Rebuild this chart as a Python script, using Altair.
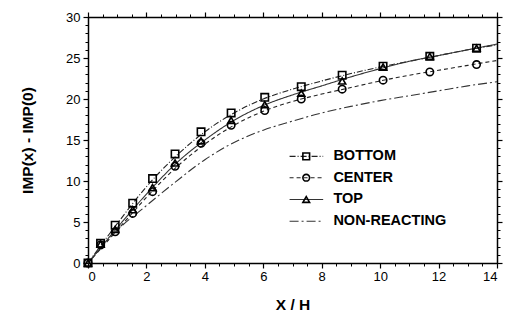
import altair as alt
import pandas as pd

# Measured impulse increase at each station (x/H)
x_meas = [0, 0.43, 0.93, 1.53, 2.21, 2.98, 3.87, 4.9, 6.05, 7.3, 8.7, 10.1, 11.7, 13.3]
bottom = [0, 2.4, 4.6, 7.3, 10.3, 13.3, 16.0, 18.3, 20.2, 21.5, 22.9, 24.0, 25.2, 26.2]
center = [0, 2.2, 3.8, 6.05, 8.7, 11.8, 14.6, 16.8, 18.6, 20.0, 21.2, 22.3, 23.3, 24.2]
top = [0, 2.3, 4.1, 6.5, 9.2, 12.2, 14.9, 17.4, 19.3, 20.7, 22.2, 23.9, 25.2, 26.2]

# Smoothed fit curves
x_fit = [0, 1, 2, 3, 4, 5, 6, 7, 8, 9, 10, 11, 12, 13, 14]
bottom_fit = [0, 4.8, 9.3, 13.0, 16.0, 18.3, 20.0, 21.2, 22.2, 23.1, 23.9, 24.6, 25.3, 26.0, 26.6]
center_fit = [0, 4.0, 8.0, 11.6, 14.5, 16.8, 18.5, 19.7, 20.6, 21.4, 22.2, 22.9, 23.5, 24.1, 24.7]
top_fit = [0, 4.3, 8.4, 12.1, 15.0, 17.4, 19.2, 20.5, 21.6, 22.7, 23.7, 24.6, 25.3, 26.0, 26.7]
nonreact_fit = [0, 4.0, 7.0, 9.9, 12.6, 14.7, 16.2, 17.3, 18.3, 19.1, 19.8, 20.4, 21.0, 21.6, 22.1]

series = ["BOTTOM", "CENTER", "TOP", "NON-REACTING"]
shapes = ["square", "circle", "triangle-up", None]
dashes = [[6, 2, 1, 2], [4, 3], [1, 0], [9, 3, 2, 3]]
strokes = ["#222222", "#222222", "#333333", "#333333"]

x_major = [0, 2, 4, 6, 8, 10, 12, 14]
y_major = [0, 5, 10, 15, 20, 25, 30]
x_minor = [i * 0.5 for i in range(29)]
y_minor = list(range(31))

meas = pd.DataFrame(
    [{"x": x, "y": v, "s": "BOTTOM"} for x, v in zip(x_meas, bottom)]
    + [{"x": x, "y": v, "s": "CENTER"} for x, v in zip(x_meas, center)]
    + [{"x": x, "y": v, "s": "TOP"} for x, v in zip(x_meas, top)]
)
fits = {
    "BOTTOM": bottom_fit,
    "CENTER": center_fit,
    "TOP": top_fit,
    "NON-REACTING": nonreact_fit,
}

xscale = alt.Scale(domain=[0, 14], nice=False, zero=False)
yscale = alt.Scale(domain=[0, 30], nice=False, zero=False)


def xe(axis=None):
    return alt.X("x:Q", scale=xscale, axis=axis)


def ye(axis=None):
    return alt.Y("y:Q", scale=yscale, axis=axis)


label_style = dict(labelFont="Liberation Sans", labelFontSize=13, labelColor="black",
                   titleFont="Liberation Sans", titleFontSize=15.5,
                   titleFontWeight="bold", titleColor="black")
frame_style = dict(domainColor="black", domainWidth=1.5, tickColor="black",
                   tickWidth=1.2, tickSize=5, grid=False)
minor_style = dict(domain=False, labels=False, title=None, tickSize=3,
                   tickColor="black", tickWidth=1, grid=False)

layers = []

# Main bottom/left axes carried by an invisible layer
layers.append(
    alt.Chart(pd.DataFrame({"x": x_major[:1], "y": y_major[:1]})).mark_point(opacity=0)
    .encode(
        x=xe(alt.Axis(orient="bottom", title="X / H", values=x_major, format="d",
                      labelPadding=2, titlePadding=14, **frame_style, **label_style)),
        y=ye(alt.Axis(orient="left", title="IMP(x) - IMP(0)", values=y_major,
                      format="d", labelPadding=3, titlePadding=30,
                      **frame_style, **label_style)),
    )
)
# Mirrored frame on top/right, ticks only
layers.append(
    alt.Chart(pd.DataFrame({"x": x_major[:1], "y": y_major[:1]})).mark_point(opacity=0)
    .encode(
        x=xe(alt.Axis(orient="top", values=x_major, labels=False, title=None,
                      **frame_style)),
        y=ye(alt.Axis(orient="right", values=y_major, labels=False, title=None,
                      **frame_style)),
    )
)
# Minor ticks on all four sides
for xo, yo in [("bottom", "left"), ("top", "right")]:
    layers.append(
        alt.Chart(pd.DataFrame({"x": x_major[:1], "y": y_major[:1]})).mark_point(opacity=0)
        .encode(
            x=xe(alt.Axis(orient=xo, values=x_minor, **minor_style)),
            y=ye(alt.Axis(orient=yo, values=y_minor, **minor_style)),
        )
    )

# Fit curves
for name, dash, col in zip(series, dashes, strokes):
    df = pd.DataFrame({"x": x_fit, "y": fits[name]})
    layers.append(
        alt.Chart(df).mark_line(interpolate="monotone", color=col,
                                strokeWidth=1.1, strokeDash=dash)
        .encode(x=xe(), y=ye())
    )
# Measured points
for name, shp in zip(series[:3], shapes[:3]):
    layers.append(
        alt.Chart(meas[meas.s == name]).mark_point(
            shape=shp, filled=False, color="black", strokeWidth=1.6,
            size=55 if shp != "triangle-up" else 50, opacity=1)
        .encode(x=xe(), y=ye())
    )

# Key drawn inside the plot area
key_rows = [13.0, 10.4, 7.75, 5.1]
key = pd.DataFrame({"s": series, "y": key_rows})
key_x0, key_x1, key_xm, key_xt = 6.9, 8.05, 7.47, 8.4
for name, dash, col, yy in zip(series, dashes, strokes, key_rows):
    seg = pd.DataFrame({"x": [key_x0], "x2": [key_x1], "y": [yy]})
    layers.append(alt.Chart(seg).mark_rule(color=col, strokeWidth=1.1, strokeDash=dash)
                  .encode(x=xe(), x2="x2:Q", y=ye()))
for name, shp, yy in zip(series[:3], shapes[:3], key_rows[:3]):
    pt = pd.DataFrame({"x": [key_xm], "y": [yy]})
    layers.append(alt.Chart(pt).mark_point(shape=shp, filled=False, color="black",
                                           strokeWidth=1.6, size=45, opacity=1)
                  .encode(x=xe(), y=ye()))
key["x"] = key_xt
layers.append(alt.Chart(key).mark_text(align="left", baseline="middle",
                                       font="Liberation Sans", fontSize=14.5,
                                       fontWeight="bold", color="black")
              .encode(x=xe(), y=ye(), text="s:N"))

chart = (
    alt.layer(*layers)
    .resolve_axis(x="independent", y="independent")
    .properties(width=409, height=246, autosize=alt.AutoSizeParams(type="none"),
                padding={"left": 88, "top": 17, "right": 13, "bottom": 60})
    .configure_view(stroke=None)
    .configure(background="white")
)

chart.save("out.html", embed_options={"renderer": "svg", "actions": False})
